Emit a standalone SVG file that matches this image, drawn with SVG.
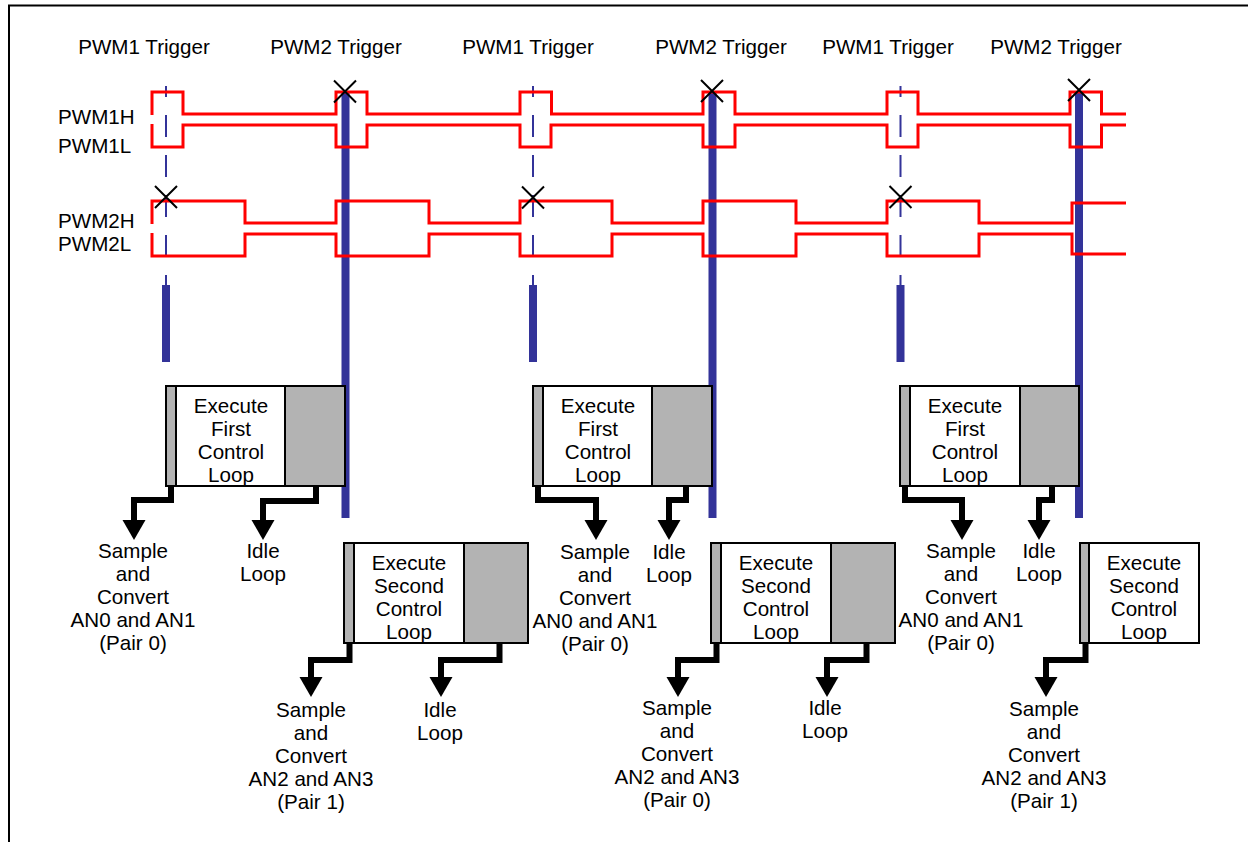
<svg xmlns="http://www.w3.org/2000/svg" width="1248" height="842" viewBox="0 0 1248 842">
<style>
text{font-family:"Liberation Sans",Arial,sans-serif;font-size:20.6px;fill:#000}
.c{text-anchor:middle}
.wave{fill:none;stroke:#ff0000;stroke-width:3;stroke-linejoin:miter}
.dash{fill:none;stroke:#333399;stroke-width:2}
.bar{fill:#333399}
.box{fill:#fff;stroke:#000;stroke-width:2}
.gray{fill:#b3b3b3;stroke:#000;stroke-width:2}
.arr{fill:none;stroke:#000;stroke-width:6;stroke-linejoin:miter;marker-end:url(#ah)}
.x{stroke:#000;stroke-width:2}
.frame{stroke:#000;stroke-width:2;fill:none}
</style>
<defs>
<marker id="ah" viewBox="0 -12 20 24" refX="0" refY="0" markerWidth="20" markerHeight="24" markerUnits="userSpaceOnUse" orient="auto">
<path d="M0,-11.5 L20,0 L0,11.5 Z" fill="#000"/>
</marker>
</defs>
<rect width="1248" height="842" fill="#fff"/>
<path class="frame" d="M9,842 V5.5 H1248"/>

<g id="labels">
<text class="c" x="144" y="54">PWM1 Trigger</text>
<text class="c" x="336" y="54">PWM2 Trigger</text>
<text class="c" x="528" y="54">PWM1 Trigger</text>
<text class="c" x="721" y="54">PWM2 Trigger</text>
<text class="c" x="888" y="54">PWM1 Trigger</text>
<text class="c" x="1056" y="54">PWM2 Trigger</text>
<text x="58" y="124">PWM1H</text>
<text x="58" y="153">PWM1L</text>
<text x="58" y="228">PWM2H</text>
<text x="58" y="251">PWM2L</text>
</g>

<g id="triggers">
<path class="dash" d="M166,86V97M166,115V137M166,155V177M166,195V217M166,235V257M166,275V290"/>
<path class="dash" d="M533,86V97M533,115V137M533,155V177M533,195V217M533,235V257M533,275V290"/>
<path class="dash" d="M900.5,86V97M900.5,115V137M900.5,155V177M900.5,195V217M900.5,235V257M900.5,275V290"/>
<rect class="bar" x="162" y="285" width="8" height="77"/>
<rect class="bar" x="529" y="285" width="8" height="77"/>
<rect class="bar" x="896.5" y="285" width="8" height="77"/>
<rect class="bar" x="341.5" y="92" width="8" height="426"/>
<rect class="bar" x="708.5" y="92" width="8" height="426"/>
<rect class="bar" x="1075" y="92" width="8" height="426"/>
</g>

<g id="waveforms">
<path id="pwm1h" class="wave" d="M152,115V92H183V114H336V92H367V114H520V92H551.5V114H703V92H735V114H887V92H918V114H1070V92H1101.5V114H1126"/>
<path id="pwm1l" class="wave" d="M152,124V147H183V125H336V147H367V125H520V147H551V125H703V147H735V125H887V147H918V125H1070V147H1101.5V125H1126"/>
<path id="pwm2h" class="wave" d="M152,224V201H245V223H336V201H429V223H520V201H612V223H703V201H796V223H887V201H979V223H1072V203H1126"/>
<path id="pwm2l" class="wave" d="M152,233V256H245V234H336V256H429V234H520V256H612V234H703V256H796V234H887V256H979V234H1072V254H1126"/>
</g>

<g id="box-first-1">
<rect class="box" x="166" y="386" width="179" height="100"/>
<rect class="gray" x="166" y="386" width="10" height="100"/>
<rect class="gray" x="285" y="386" width="60" height="100"/>
<text class="c" x="231" y="413">Execute</text>
<text class="c" x="231" y="436">First</text>
<text class="c" x="231" y="459">Control</text>
<text class="c" x="231" y="482">Loop</text>
</g>
<g id="box-first-2">
<rect class="box" x="533" y="386" width="179" height="100"/>
<rect class="gray" x="533" y="386" width="10" height="100"/>
<rect class="gray" x="652" y="386" width="60" height="100"/>
<text class="c" x="598" y="413">Execute</text>
<text class="c" x="598" y="436">First</text>
<text class="c" x="598" y="459">Control</text>
<text class="c" x="598" y="482">Loop</text>
</g>
<g id="box-first-3">
<rect class="box" x="900" y="386" width="179" height="100"/>
<rect class="gray" x="900" y="386" width="10" height="100"/>
<rect class="gray" x="1020" y="386" width="59" height="100"/>
<text class="c" x="965" y="413">Execute</text>
<text class="c" x="965" y="436">First</text>
<text class="c" x="965" y="459">Control</text>
<text class="c" x="965" y="482">Loop</text>
</g>

<g id="box-second-1">
<rect class="box" x="344" y="543" width="184" height="100"/>
<rect class="gray" x="344" y="543" width="10" height="100"/>
<rect class="gray" x="464" y="543" width="64" height="100"/>
<text class="c" x="409" y="570">Execute</text>
<text class="c" x="409" y="593">Second</text>
<text class="c" x="409" y="616">Control</text>
<text class="c" x="409" y="639">Loop</text>
</g>
<g id="box-second-2">
<rect class="box" x="711" y="543" width="184" height="100"/>
<rect class="gray" x="711" y="543" width="10" height="100"/>
<rect class="gray" x="831" y="543" width="64" height="100"/>
<text class="c" x="776" y="570">Execute</text>
<text class="c" x="776" y="593">Second</text>
<text class="c" x="776" y="616">Control</text>
<text class="c" x="776" y="639">Loop</text>
</g>
<g id="box-second-3">
<rect class="box" x="1080" y="543" width="119" height="100"/>
<rect class="gray" x="1080" y="543" width="9" height="100"/>
<text class="c" x="1144" y="570">Execute</text>
<text class="c" x="1144" y="593">Second</text>
<text class="c" x="1144" y="616">Control</text>
<text class="c" x="1144" y="639">Loop</text>
</g>

<g id="connectors">
<path class="arr" d="M171,487V500H134V520"/>
<path class="arr" d="M316,487V501H263V520"/>
<path class="arr" d="M538,487V500H596V520"/>
<path class="arr" d="M686,487V500H669V520"/>
<path class="arr" d="M905,487V500H962V520"/>
<path class="arr" d="M1052,487V500H1039V520"/>
<path class="arr" d="M349.5,644V660H311V677"/>
<path class="arr" d="M499.5,644V660H441V677"/>
<path class="arr" d="M716.5,644V660H678V677"/>
<path class="arr" d="M866.5,644V660H827V677"/>
<path class="arr" d="M1085.5,644V660H1046V677"/>
</g>

<g id="result-labels">
<text class="c" x="133" y="558">Sample</text>
<text class="c" x="133" y="581">and</text>
<text class="c" x="133" y="604">Convert</text>
<text class="c" x="133" y="627">AN0 and AN1</text>
<text class="c" x="133" y="650">(Pair 0)</text>
<text class="c" x="263" y="558">Idle</text>
<text class="c" x="263" y="581">Loop</text>
<text class="c" x="595" y="559">Sample</text>
<text class="c" x="595" y="582">and</text>
<text class="c" x="595" y="605">Convert</text>
<text class="c" x="595" y="628">AN0 and AN1</text>
<text class="c" x="595" y="651">(Pair 0)</text>
<text class="c" x="669" y="559">Idle</text>
<text class="c" x="669" y="582">Loop</text>
<text class="c" x="961" y="558">Sample</text>
<text class="c" x="961" y="581">and</text>
<text class="c" x="961" y="604">Convert</text>
<text class="c" x="961" y="627">AN0 and AN1</text>
<text class="c" x="961" y="650">(Pair 0)</text>
<text class="c" x="1039" y="558">Idle</text>
<text class="c" x="1039" y="581">Loop</text>
<text class="c" x="311" y="717">Sample</text>
<text class="c" x="311" y="740">and</text>
<text class="c" x="311" y="763">Convert</text>
<text class="c" x="311" y="786">AN2 and AN3</text>
<text class="c" x="311" y="809">(Pair 1)</text>
<text class="c" x="440" y="717">Idle</text>
<text class="c" x="440" y="740">Loop</text>
<text class="c" x="677" y="715">Sample</text>
<text class="c" x="677" y="738">and</text>
<text class="c" x="677" y="761">Convert</text>
<text class="c" x="677" y="784">AN2 and AN3</text>
<text class="c" x="677" y="807">(Pair 0)</text>
<text class="c" x="825" y="715">Idle</text>
<text class="c" x="825" y="738">Loop</text>
<text class="c" x="1044" y="716">Sample</text>
<text class="c" x="1044" y="739">and</text>
<text class="c" x="1044" y="762">Convert</text>
<text class="c" x="1044" y="785">AN2 and AN3</text>
<text class="c" x="1044" y="808">(Pair 1)</text>
</g>

<g id="trigger-marks">
<path class="x" d="M334,80.5L356,102.5M356,80.5L334,102.5"/>
<path class="x" d="M701,80L723,102M723,80L701,102"/>
<path class="x" d="M1068,79L1090,101M1090,79L1068,101"/>
<path class="x" d="M155,186L177,208M177,186L155,208"/>
<path class="x" d="M522,186.5L544,208.5M544,186.5L522,208.5"/>
<path class="x" d="M889.5,186L911.5,208M911.5,186L889.5,208"/>
</g>
</svg>
